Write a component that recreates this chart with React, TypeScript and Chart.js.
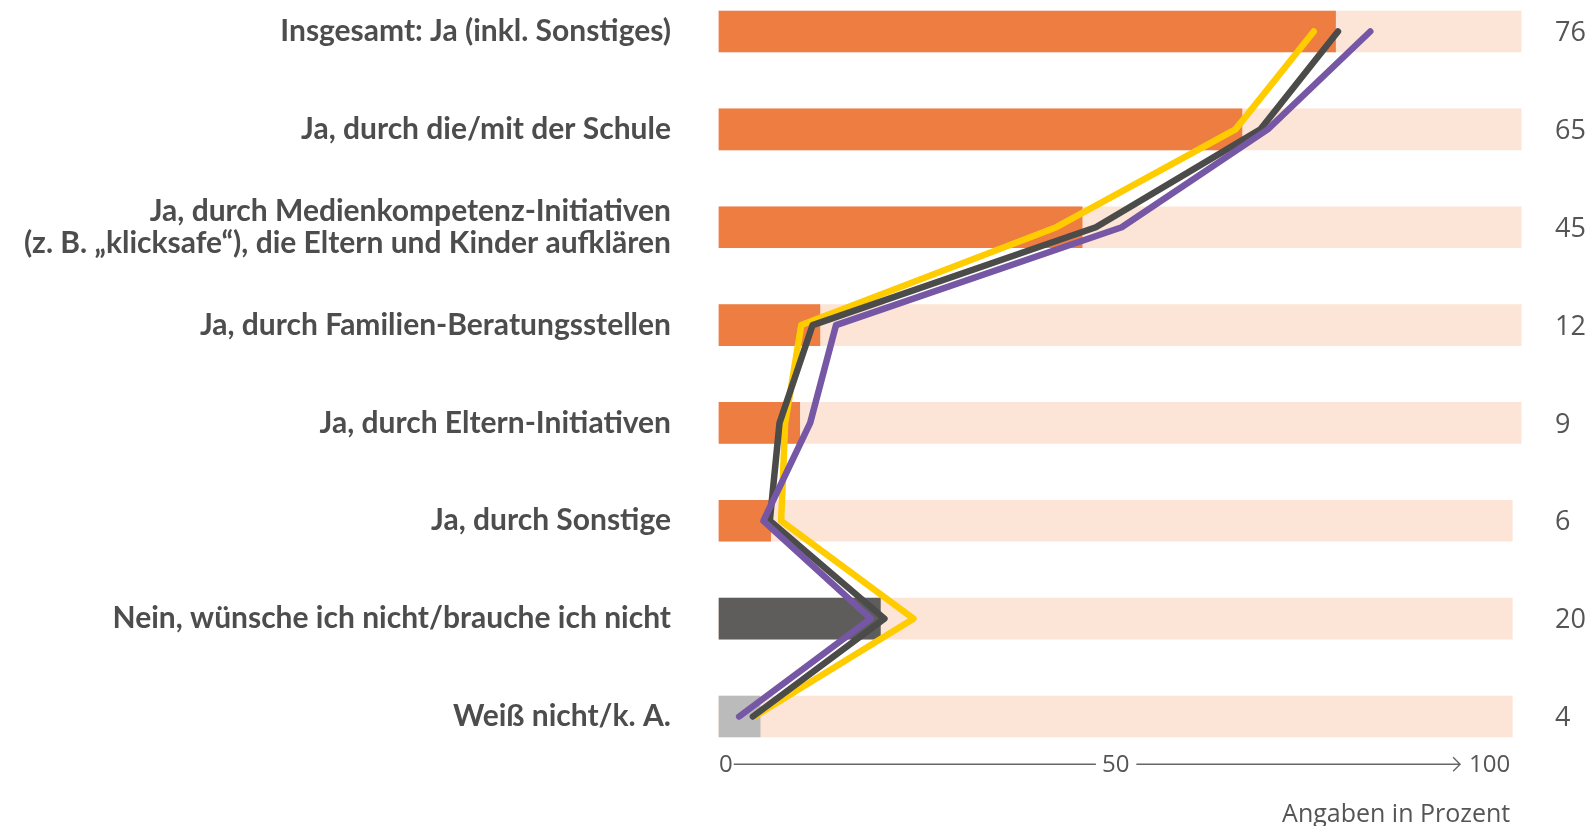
import React, { useEffect, useRef } from "react";
import { Chart, registerables } from "chart.js";

Chart.register(...registerables);

// ---------- data ----------
const categories: (string | string[])[] = [
  "Insgesamt: Ja (inkl. Sonstiges)",
  "Ja, durch die/mit der Schule",
  ["Ja, durch Medienkompetenz-Initiativen", "(z. B. „klicksafe“), die Eltern und Kinder aufklären"],
  "Ja, durch Familien-Beratungsstellen",
  "Ja, durch Eltern-Initiativen",
  "Ja, durch Sonstige",
  "Nein, wünsche ich nicht/brauche ich nicht",
  "Weiß nicht/k. A.",
];

// bar lengths as drawn
const shares = [76.4, 64.8, 45.0, 12.5, 10.0, 6.4, 20.0, 5.1];
// printed values on the right
const shareLabels = ["76", "65", "45", "12", "9", "6", "20", "4"];
// light background bars
const backdrop = [99.4, 99.4, 99.4, 99.4, 99.4, 98.3, 98.3, 98.3];

// three comparison lines
const seriesYellow = [73.7, 64.0, 41.8, 10.2, 8.2, 7.7, 24.1, 4.4];
const seriesDark = [76.7, 67.1, 46.7, 11.6, 7.5, 6.3, 20.5, 4.2];
const seriesPurple = [80.7, 68.0, 49.9, 14.5, 11.3, 5.5, 18.8, 2.5];

const axisTicks = ["0", "50", "100"];
const axisTitle = "Angaben in Prozent";

// ---------- styles ----------
const ORANGE = "#EE7D42";
const PEACH = "#FCE4D6";
const DARK_BAR = "#5E5D5B";
const LIGHT_BAR = "#BBBBBB";
const YELLOW = "#FFCC00";
const DARK_LINE = "#4B4B49";
const PURPLE = "#7657A5";
const TEXT = "#4D4D4D";
const barColors = [ORANGE, ORANGE, ORANGE, ORANGE, ORANGE, ORANGE, DARK_BAR, LIGHT_BAR];

export default function App() {
  const ref = useRef<HTMLCanvasElement>(null);

  useEffect(() => {
    const valueLabels = {
      id: "valueLabels",
      afterDatasetsDraw(chart: any) {
        const ctx = chart.ctx;
        const xs = chart.scales.x;
        const ys = chart.scales.y;
        ctx.save();
        ctx.font = "27px 'Open Sans'";
        ctx.fillStyle = "#555555";
        ctx.textAlign = "left";
        ctx.textBaseline = "middle";
        const x = xs.getPixelForValue(100) + 29;
        shareLabels.forEach((t, i) => {
          ctx.fillText(t, x, ys.getPixelForValue(i) + 2);
        });
        ctx.restore();
      },
    };

    const axisDraw = {
      id: "axisDraw",
      afterDraw(chart: any) {
        const ctx = chart.ctx;
        const xs = chart.scales.x;
        const start = xs.getPixelForValue(0);
        const end = xs.getPixelForValue(Math.min(...backdrop));
        const mid = (start + end) / 2;
        const y = chart.chartArea.bottom + 47.8;
        ctx.save();
        ctx.font = "24px 'Open Sans'";
        ctx.fillStyle = "#555555";
        ctx.textBaseline = "middle";
        const w0 = ctx.measureText(axisTicks[0]).width;
        const w50 = ctx.measureText(axisTicks[1]).width;
        const w100 = ctx.measureText(axisTicks[2]).width;
        ctx.textAlign = "left";
        ctx.fillText(axisTicks[0], start, y + 1);
        ctx.textAlign = "center";
        ctx.fillText(axisTicks[1], mid, y + 1);
        ctx.textAlign = "right";
        ctx.fillText(axisTicks[2], end - 2, y + 1);
        ctx.strokeStyle = "#666666";
        ctx.lineWidth = 1.4;
        const tip = end - 2 - w100 - 9;
        ctx.beginPath();
        ctx.moveTo(start + w0 + 1, y);
        ctx.lineTo(mid - w50 / 2 - 6, y);
        ctx.moveTo(mid + w50 / 2 + 7, y);
        ctx.lineTo(tip, y);
        ctx.moveTo(tip - 7, y - 7);
        ctx.lineTo(tip, y);
        ctx.lineTo(tip - 7, y + 7);
        ctx.stroke();
        ctx.font = "25px 'Open Sans'";
        ctx.textAlign = "right";
        ctx.textBaseline = "middle";
        ctx.fillText(axisTitle, end - 2, chart.chartArea.bottom + 98);
        ctx.restore();
      },
    };

    const lineDs = (label: string, data: number[], color: string, order: number) => ({
      type: "line" as const,
      label,
      data,
      indexAxis: "y" as const,
      borderColor: color,
      backgroundColor: color,
      borderWidth: 6.5,
      pointRadius: 0,
      pointHoverRadius: 0,
      tension: 0,
      borderCapStyle: "round" as const,
      borderJoinStyle: "round" as const,
      fill: false,
      clip: false as any,
      order,
    });

    const chart = new Chart(ref.current!, {
      type: "bar",
      data: {
        labels: categories as any,
        datasets: [
          lineDs("Reihe 1", seriesYellow, YELLOW, 2),
          lineDs("Reihe 2", seriesDark, DARK_LINE, 1),
          lineDs("Reihe 3", seriesPurple, PURPLE, 0),
          {
            type: "bar",
            label: "Anteil",
            data: shares,
            indexAxis: "y",
            backgroundColor: barColors,
            barThickness: 41,
            grouped: false,
            clip: false as any,
            order: 3,
          } as any,
          {
            type: "bar",
            label: "Basis",
            data: backdrop,
            indexAxis: "y",
            backgroundColor: PEACH,
            barThickness: 41,
            grouped: false,
            clip: false as any,
            order: 4,
          } as any,
        ],
      },
      options: {
        indexAxis: "y",
        animation: false,
        responsive: true,
        maintainAspectRatio: false,
        layout: { padding: { top: 31.5, bottom: 109.5, left: 0, right: 69 } },
        plugins: { legend: { display: false }, tooltip: { enabled: false } },
        events: [],
        scales: {
          x: { type: "linear", min: 0, max: 100, display: false },
          y: {
            type: "category",
            offset: false,
            position: "left",
            grid: { display: false, drawTicks: false },
            border: { display: false },
            ticks: {
              autoSkip: false,
              padding: 48,
              color: TEXT,
              font: { family: "Lato", weight: "bold", size: 30, lineHeight: 1.08 },
            },
            afterFit: (scale: any) => {
              scale.width = 719;
              scale.paddingTop = 0;
              scale.paddingBottom = 0;
            },
          },
        },
      },
      plugins: [valueLabels, axisDraw],
    } as any);

    (document as any).fonts?.load?.("bold 30px Lato").then(() => chart.update()).catch(() => {});
    (document as any).fonts?.load?.("24px 'Open Sans'").then(() => chart.update()).catch(() => {});

    return () => chart.destroy();
  }, []);

  return (
    <div style={{ position: "fixed", left: 0, top: 0, width: 1595, height: 826, background: "#fff" }}>
      <canvas ref={ref} />
    </div>
  );
}
